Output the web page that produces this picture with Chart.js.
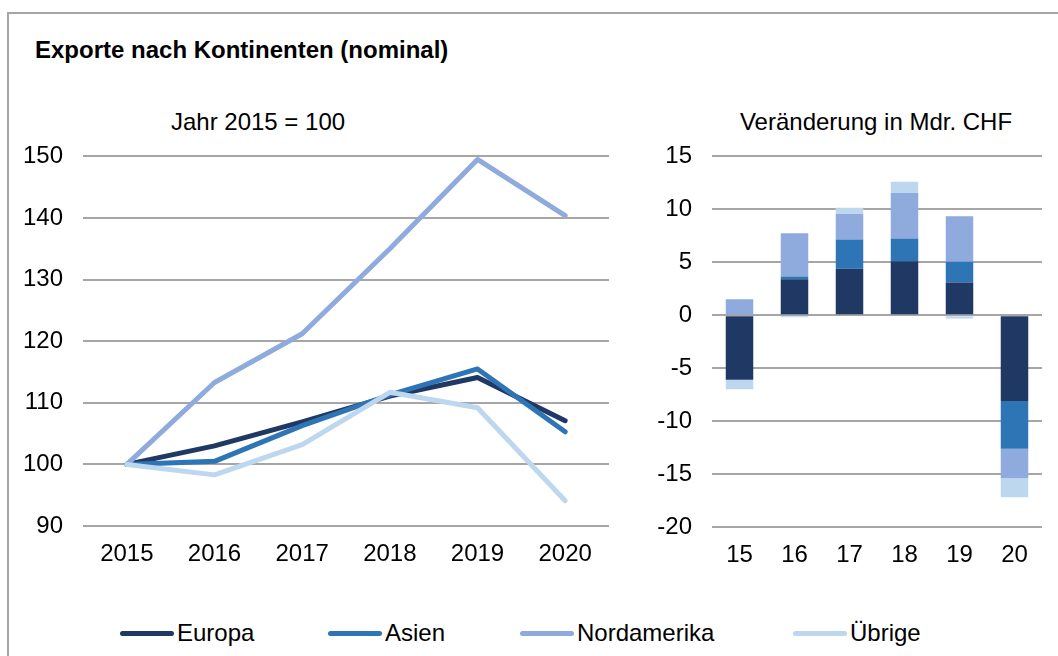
<!DOCTYPE html>
<html>
<head>
<meta charset="utf-8">
<script src="https://cdn.jsdelivr.net/npm/chart.js@4.4.1/dist/chart.umd.min.js"></script>
<style>
  html, body { margin: 0; padding: 0; background: #fff; }
  body { width: 1058px; height: 656px; position: relative; overflow: hidden;
         font-family: "Liberation Sans", Arial, sans-serif; color: #000; }
  #frame { position: absolute; left: 7px; top: 12px; width: 1100px; height: 700px;
           border-top: 2px solid #a6a6a6; border-left: 2px solid #a6a6a6; }
  #title { position: absolute; left: 35px; top: 38px; font-size: 24px; font-weight: bold; line-height: 1; white-space: nowrap; }
  .sub { position: absolute; top: 110px; font-size: 24px; line-height: 1; white-space: nowrap; transform: translateX(-50%); }
  #lineWrap { position: absolute; left: 0; top: 122px; width: 620px; height: 460px; }
  #barWrap { position: absolute; left: 630px; top: 122px; width: 420px; height: 461px; }
  .leg { position: absolute; top: 621px; height: 24px; display: flex; align-items: center; font-size: 24px; line-height: 1; white-space: nowrap; }
  .leg i { display: inline-block; width: 54px; height: 5px; border-radius: 3px; margin-right: 3px; }
</style>
</head>
<body>
<div id="frame"></div>
<div id="title">Exporte nach Kontinenten (nominal)</div>
<div class="sub" style="left:258px">Jahr 2015 = 100</div>
<div class="sub" style="left:876px">Veränderung in Mdr. CHF</div>
<div id="lineWrap"><canvas id="lineChart"></canvas></div>
<div id="barWrap"><canvas id="barChart"></canvas></div>
<div id="legend"></div>

<script>
// categories
const years = ["2015", "2016", "2017", "2018", "2019", "2020"];
const yearsShort = ["15", "16", "17", "18", "19", "20"];

// series
const seriesNames = ["Europa", "Asien", "Nordamerika", "Übrige"];
const seriesColors = ["#203864", "#2e75b6", "#8faadc", "#bdd7ee"];

// index, 2015 = 100
const indexEuropa = [100, 103.0, 106.9, 111.1, 114.1, 107.1];
const indexAsien = [100, 100.5, 106.3, 111.3, 115.5, 105.3];
const indexNordamerika = [100, 113.3, 121.2, 135.0, 149.5, 140.4];
const indexUebrige = [100, 98.3, 103.2, 111.7, 109.2, 94.1];

// change in bn CHF
const deltaEuropa = [-6.1, 3.4, 4.4, 5.1, 3.1, -8.1];
const deltaAsien = [0, 0.25, 2.75, 2.15, 1.95, -4.5];
const deltaNordamerika = [1.5, 4.1, 2.4, 4.3, 4.3, -2.8];
const deltaUebrige = [-0.9, -0.2, 0.6, 1.05, -0.3, -1.8];

// axis ranges
const indexMin = 90, indexMax = 150, indexStep = 10;
const deltaMin = -20, deltaMax = 15, deltaStep = 5;

const indexSeries = [indexEuropa, indexAsien, indexNordamerika, indexUebrige];
const deltaSeries = [deltaEuropa, deltaAsien, deltaNordamerika, deltaUebrige];

Chart.defaults.font.family = '"Liberation Sans", Arial, sans-serif';
Chart.defaults.font.size = 24;
Chart.defaults.color = "#000";
Chart.defaults.animation = false;

const gridColor = "#a6a6a6";

function yAxis(min, max, step, width) {
  return {
    min, max,
    ticks: { stepSize: step, padding: 20 },
    grid: { color: gridColor, lineWidth: 2, drawTicks: false },
    border: { display: false },
    afterFit: (s) => { s.width = width; }
  };
}

function xAxis() {
  return {
    offset: true,
    ticks: { padding: 14, maxRotation: 0 },
    grid: { display: false, drawTicks: false },
    border: { display: false },
    afterFit: (s) => { s.height = 56; }
  };
}

// line chart (left)
new Chart(document.getElementById("lineChart"), {
  type: "line",
  data: {
    labels: years,
    datasets: seriesNames.map((name, i) => ({
      label: name,
      data: indexSeries[i],
      borderColor: seriesColors[i],
      backgroundColor: seriesColors[i],
      borderWidth: 5,
      pointRadius: 0,
      tension: 0,
      borderCapStyle: "round",
      borderJoinStyle: "round",
      order: seriesNames.length - i // last series on top, like Excel
    }))
  },
  options: {
    responsive: true,
    maintainAspectRatio: false,
    layout: { padding: { top: 6, right: 11, left: 0, bottom: 0 } },
    plugins: { legend: { display: false }, tooltip: { enabled: false } },
    scales: {
      x: xAxis(),
      y: yAxis(indexMin, indexMax, indexStep, 83)
    }
  }
});

// stacked bars (right)
new Chart(document.getElementById("barChart"), {
  type: "bar",
  data: {
    labels: yearsShort,
    datasets: seriesNames.map((name, i) => ({
      label: name,
      data: deltaSeries[i],
      backgroundColor: seriesColors[i],
      borderWidth: 0,
      barPercentage: 0.5,
      categoryPercentage: 1
    }))
  },
  options: {
    responsive: true,
    maintainAspectRatio: false,
    layout: { padding: { top: 6, right: 8, left: 0, bottom: 0 } },
    plugins: { legend: { display: false }, tooltip: { enabled: false } },
    scales: {
      x: Object.assign(xAxis(), { stacked: true }),
      y: Object.assign(yAxis(deltaMin, deltaMax, deltaStep, 82), { stacked: true })
    }
  }
});

// shared legend
const legendLeft = [120, 328, 520, 793];
const legend = document.getElementById("legend");
seriesNames.forEach((name, i) => {
  const item = document.createElement("div");
  item.className = "leg";
  item.style.left = legendLeft[i] + "px";
  item.innerHTML = `<i style="background:${seriesColors[i]}"></i><span>${name}</span>`;
  legend.appendChild(item);
});
</script>
</body>
</html>
